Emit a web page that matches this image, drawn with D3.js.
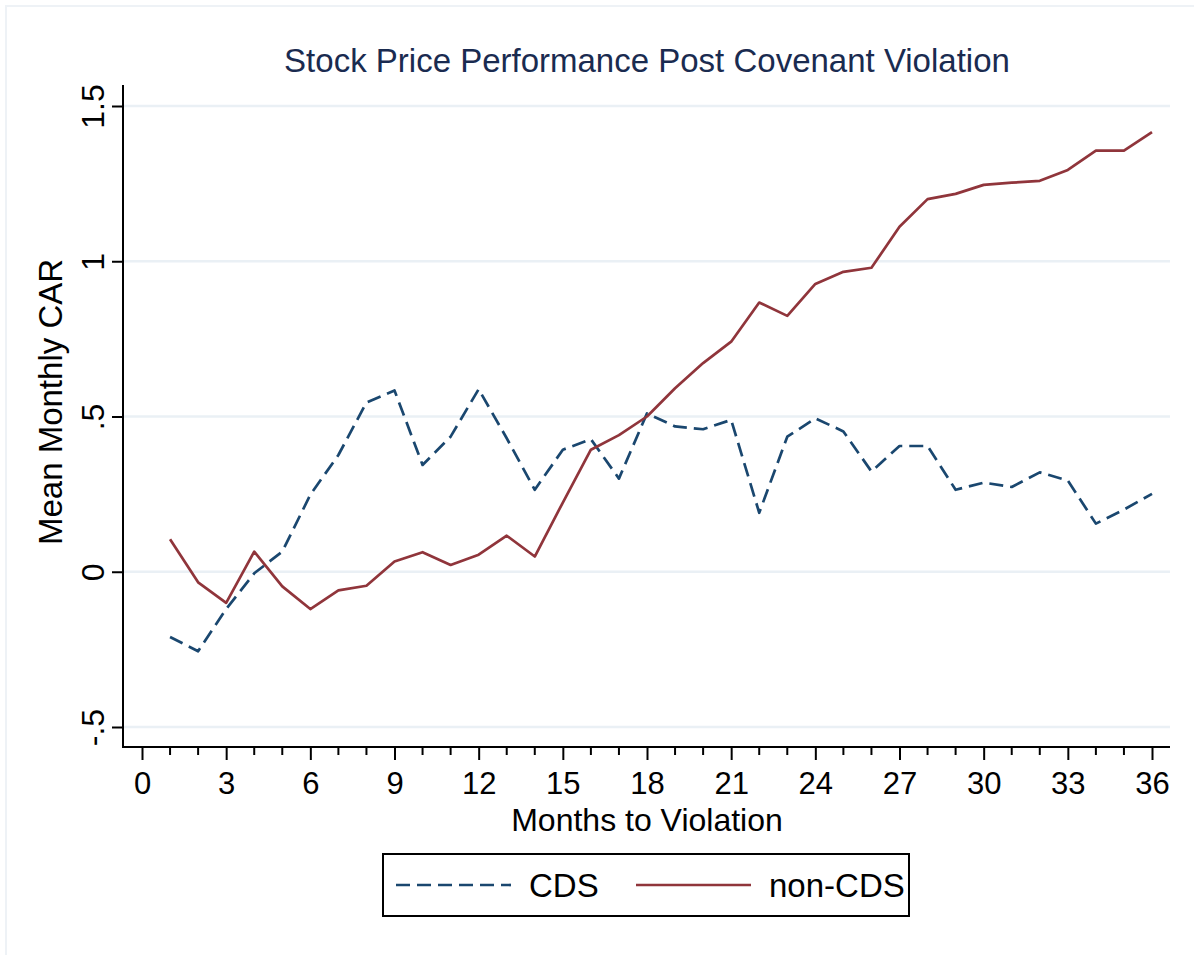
<!DOCTYPE html>
<html>
<head>
<meta charset="utf-8">
<script src="https://cdn.jsdelivr.net/npm/d3@7"></script>
<style>
  body { margin: 0; background: #fff; }
  text { font-family: 'Liberation Sans', Arial, sans-serif; }
</style>
</head>
<body>
<div id="chart"></div>
<script>
const months = d3.range(1, 37)

const cds = [
  -0.21, -0.256, -0.12, -0.005, 0.065, 0.248, 0.376, 0.545, 0.584, 0.344,
  0.435, 0.588, 0.43, 0.264, 0.393, 0.427, 0.30, 0.51, 0.468, 0.459,
  0.489, 0.19, 0.435, 0.494, 0.452, 0.323, 0.405, 0.405, 0.264, 0.287,
  0.273, 0.32, 0.294, 0.155, 0.20, 0.251
]

const nonCds = [
  0.105, -0.034, -0.10, 0.065, -0.047, -0.12, -0.06, -0.045, 0.033, 0.063,
  0.022, 0.055, 0.116, 0.049, 0.223, 0.393, 0.44, 0.50, 0.591, 0.672,
  0.741, 0.867, 0.824, 0.927, 0.966, 0.979, 1.111, 1.20, 1.217, 1.246,
  1.253, 1.259, 1.294, 1.356, 1.356, 1.416
]

const yTicks = [-0.5, 0, 0.5, 1, 1.5]
const yTickLabels = ['-.5', '0', '.5', '1', '1.5']
const xTicks = d3.range(0, 37, 3)
const xMinor = d3.range(0, 37)

const series = [
  { name: 'CDS', values: cds, color: '#1a476f', dash: '14,7' },
  { name: 'non-CDS', values: nonCds, color: '#90353b', dash: null }
]

const width = 1194
const height = 955
const plot = { left: 123, right: 1170, top: 85, bottom: 747 }

const svg = d3
  .select('#chart')
  .append('svg')
  .attr('width', width)
  .attr('height', height)

// faint outer frame
svg
  .append('rect')
  .attr('x', 6)
  .attr('y', 6)
  .attr('width', width)
  .attr('height', height)
  .attr('fill', 'none')
  .attr('stroke', '#eef2f6')
  .attr('stroke-width', 2)

const x = d3.scaleLinear().domain([0, 36]).range([142, 1152])
const y = d3.scaleLinear().domain([-0.5, 1.5]).range([727, 106])

// grid lines
svg
  .selectAll('.grid')
  .data(yTicks)
  .enter()
  .append('line')
  .attr('class', 'grid')
  .attr('x1', plot.left)
  .attr('x2', plot.right)
  .attr('y1', d => y(d))
  .attr('y2', d => y(d))
  .attr('stroke', '#eaf0f5')
  .attr('stroke-width', 2.5)

// y axis
const yAxis = d3
  .axisLeft(y)
  .tickValues(yTicks)
  .tickFormat((d, i) => yTickLabels[i])
  .tickSize(11)

const gy = svg
  .append('g')
  .attr('transform', `translate(${plot.left},0)`)
  .call(yAxis)
gy.select('.domain').remove()
gy.selectAll('line').attr('stroke', '#000').attr('stroke-width', 2)
gy.selectAll('text')
  .attr('font-size', 32)
  .attr('fill', '#000')
  .attr('transform', 'rotate(-90, -19, 0)')
  .attr('x', -19)
  .attr('y', 0)
  .attr('dy', 0)
  .attr('text-anchor', 'middle')
gy.append('line')
  .attr('x1', 0)
  .attr('x2', 0)
  .attr('y1', plot.top)
  .attr('y2', plot.bottom + 1)
  .attr('stroke', '#000')
  .attr('stroke-width', 2)

// x axis minor ticks
svg
  .selectAll('.minor')
  .data(xMinor.filter(d => d % 3 !== 0))
  .enter()
  .append('line')
  .attr('class', 'minor')
  .attr('x1', d => x(d))
  .attr('x2', d => x(d))
  .attr('y1', plot.bottom)
  .attr('y2', plot.bottom + 8)
  .attr('stroke', '#000')
  .attr('stroke-width', 2)

const xAxis = d3
  .axisBottom(x)
  .tickValues(xTicks)
  .tickFormat(d3.format('d'))
  .tickSize(13)
  .tickPadding(12)

const gx = svg
  .append('g')
  .attr('transform', `translate(0,${plot.bottom})`)
  .call(xAxis)
gx.select('.domain').remove()
gx.selectAll('line').attr('stroke', '#000').attr('stroke-width', 2)
gx.selectAll('text').attr('font-size', 31).attr('fill', '#000')
gx.append('line')
  .attr('x1', plot.left - 1)
  .attr('x2', plot.right)
  .attr('y1', 0)
  .attr('y2', 0)
  .attr('stroke', '#000')
  .attr('stroke-width', 2)

// lines
const line = d3
  .line()
  .x((d, i) => x(months[i]))
  .y(d => y(d))

svg
  .selectAll('.series')
  .data(series)
  .enter()
  .append('path')
  .attr('class', 'series')
  .attr('d', d => line(d.values))
  .attr('fill', 'none')
  .attr('stroke', d => d.color)
  .attr('stroke-width', 2.7)
  .attr('stroke-dasharray', d => d.dash)
  .attr('stroke-linejoin', 'round')

// titles
svg
  .append('text')
  .text('Stock Price Performance Post Covenant Violation')
  .attr('x', 647)
  .attr('y', 72)
  .attr('text-anchor', 'middle')
  .attr('font-size', 33)
  .attr('fill', '#1a2b50')

svg
  .append('text')
  .text('Months to Violation')
  .attr('x', 647)
  .attr('y', 831)
  .attr('text-anchor', 'middle')
  .attr('font-size', 32)

svg
  .append('text')
  .text('Mean Monthly CAR')
  .attr('transform', 'translate(62,402) rotate(-90)')
  .attr('text-anchor', 'middle')
  .attr('font-size', 33)

// legend
const legend = svg.append('g').attr('transform', 'translate(383,854)')

legend
  .append('rect')
  .attr('width', 526)
  .attr('height', 62)
  .attr('fill', '#fff')
  .attr('stroke', '#000')
  .attr('stroke-width', 2)

const legendX = [13, 253]

legend
  .selectAll('.item')
  .data(series)
  .enter()
  .append('g')
  .attr('transform', (d, i) => `translate(${legendX[i]},31)`)
  .each(function(d) {
    const g = d3.select(this)
    g.append('line')
      .attr('x1', 0)
      .attr('x2', 115)
      .attr('stroke', d.color)
      .attr('stroke-width', 2.7)
      .attr('stroke-dasharray', d.dash)
    g.append('text')
      .text(d.name)
      .attr('x', 133)
      .attr('y', 12)
      .attr('font-size', 33)
  })
</script>
</body>
</html>
